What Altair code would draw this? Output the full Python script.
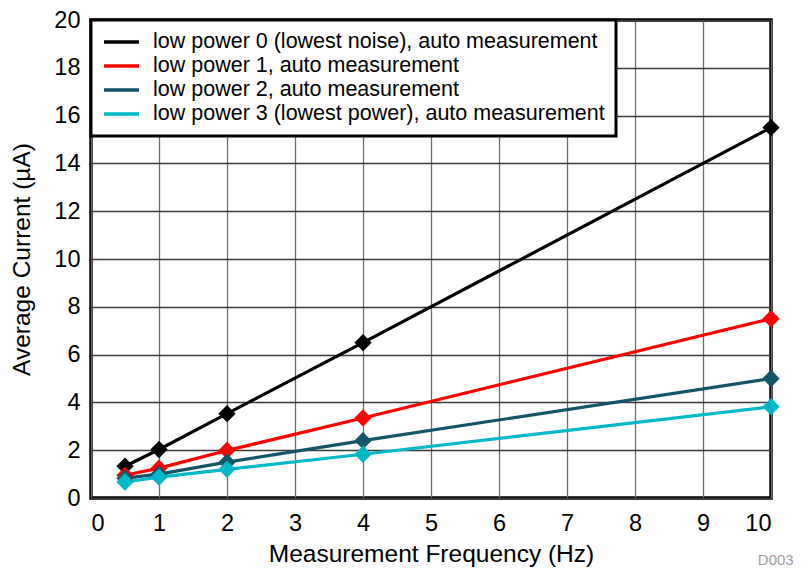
import altair as alt
import pandas as pd

freq = [0.5, 1, 2, 4, 10]
series_names = [
    "low power 0 (lowest noise), auto measurement",
    "low power 1, auto measurement",
    "low power 2, auto measurement",
    "low power 3 (lowest power), auto measurement",
]
lp0 = [1.33, 2.03, 3.53, 6.5, 15.5]
lp1 = [0.95, 1.25, 1.99, 3.35, 7.5]
lp2 = [0.83, 1.0, 1.5, 2.4, 5.0]
lp3 = [0.67, 0.87, 1.2, 1.83, 3.82]
colors = ["#000000", "#ff0000", "#115566", "#00b8c8"]

rows = []
for i, (name, vals) in enumerate(zip(series_names, [lp0, lp1, lp2, lp3])):
    for f, v in zip(freq, vals):
        rows.append({"series": name, "order": i, "freq": f, "current": v})
df = pd.DataFrame(rows)

FONT = "Liberation Sans"

x = alt.X("freq:Q", title="Measurement Frequency (Hz)",
          scale=alt.Scale(domain=[0, 10], nice=False),
          axis=alt.Axis(values=list(range(0, 11)), format="d", ticks=False, domain=False,
                        gridColor="#6e6e6e", gridWidth=1.3, labelPadding=13, titlePadding=8))
y = alt.Y("current:Q", title="Average Current (µA)",
          scale=alt.Scale(domain=[0, 20], nice=False),
          axis=alt.Axis(values=list(range(0, 21, 2)), format="d", ticks=False, domain=False,
                        gridColor="#3a3a3a", gridWidth=1.3, labelPadding=11, titlePadding=19))
color = alt.Color("series:N", scale=alt.Scale(domain=series_names, range=colors),
                  legend=alt.Legend(title=None, orient="top-left", offset=0,
                                    symbolType="stroke", symbolStrokeWidth=3.5, symbolSize=1225,
                                    clipHeight=22,
                                    labelFontSize=21.5, labelFont=FONT, labelLimit=0,
                                    fillColor="white", strokeColor="black",
                                    padding=11, rowPadding=2, labelOffset=12))

base = alt.Chart(df).encode(x=x, y=y, color=color, order="order:Q")
lines = base.mark_line(strokeWidth=3.2)
points = base.mark_point(shape="diamond", filled=True, size=300, opacity=1)

chart = alt.layer(lines, points).properties(
    width=680, height=478,
    autosize="none",
    padding={"left": 83, "top": 12, "right": 30, "bottom": 72},
    title=alt.TitleParams("D003", orient="bottom", anchor="end", color="#a0a0a0",
                          fontSize=15, font=FONT, fontWeight="normal", dx=14, dy=-13, offset=0),
).configure_view(stroke="black", strokeWidth=3.5).configure_axis(
    labelFont=FONT, titleFont=FONT, labelFontSize=23.5, titleFontSize=24.5,
    labelColor="black", titleColor="black", titleFontWeight="normal"
).configure_legend(strokeWidth=3)

chart.save("out.html", embed_options={"renderer": "svg", "actions": False})
